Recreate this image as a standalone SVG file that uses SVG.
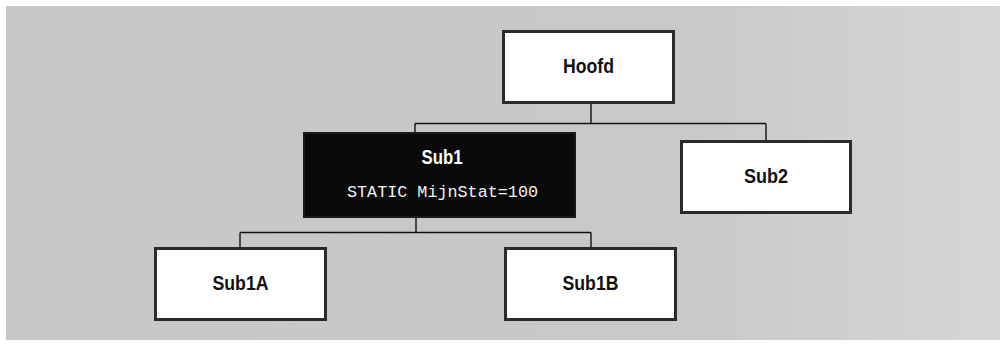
<svg xmlns="http://www.w3.org/2000/svg" width="1004" height="347" viewBox="0 0 1004 347">
<style>
.box{fill:#ffffff;stroke:#2a2a2a;stroke-width:3}
.dark{fill:#0a0a0a;stroke:#1a1a1a;stroke-width:2}
.lbl{font-family:"Liberation Sans Narrow","Liberation Sans",Arial,sans-serif;font-weight:bold;font-size:21px;fill:#111;text-anchor:middle}
.lblw{font-family:"Liberation Sans Narrow","Liberation Sans",Arial,sans-serif;font-weight:bold;font-size:20px;fill:#ffffff;text-anchor:middle}
.mono{font-family:"Liberation Mono","Courier New",monospace;font-size:16.7px;fill:#f2f2f2;text-anchor:middle}
.con{fill:none;stroke:#111;stroke-width:1.4}
</style>
<defs>
<linearGradient id="bg" x1="0" y1="0" x2="1" y2="0">
<stop offset="0" stop-color="#c6c6c6"/>
<stop offset="0.7" stop-color="#c9c9c9"/>
<stop offset="1" stop-color="#d6d6d6"/>
</linearGradient>
</defs>
<rect x="0" y="0" width="1004" height="347" fill="#ffffff"/>
<rect x="6" y="6" width="994" height="334" fill="url(#bg)"/>
<g id="connectors">
<path class="con" d="M591 104 V123.5 M415 123.5 H766 M415 123.5 V132 M766 123.5 V140"/>
<path class="con" d="M416 218 V232.5 M240 232.5 H591 M240 232.5 V247 M591 232.5 V247"/>
</g>
<g id="hoofd">
<rect class="box" x="503.5" y="31.5" width="170" height="71"/>
<text class="lbl" x="588.5" y="72.5" textLength="51" lengthAdjust="spacingAndGlyphs">Hoofd</text>
</g>
<g id="sub1">
<rect class="dark" x="304" y="133" width="271" height="84"/>
<text class="lblw" x="442" y="164" textLength="41" lengthAdjust="spacingAndGlyphs">Sub1</text>
<text class="mono" x="442.5" y="196.5" textLength="191" lengthAdjust="spacingAndGlyphs">STATIC MijnStat=100</text>
</g>
<g id="sub2">
<rect class="box" x="681.5" y="141.5" width="169" height="71"/>
<text class="lbl" x="766" y="182.5" textLength="44" lengthAdjust="spacingAndGlyphs">Sub2</text>
</g>
<g id="sub1a">
<rect class="box" x="155.5" y="248.5" width="170" height="71"/>
<text class="lbl" x="240.5" y="289.5" textLength="56" lengthAdjust="spacingAndGlyphs">Sub1A</text>
</g>
<g id="sub1b">
<rect class="box" x="505.5" y="248.5" width="170" height="71"/>
<text class="lbl" x="590.5" y="289.5" textLength="56" lengthAdjust="spacingAndGlyphs">Sub1B</text>
</g>
</svg>
